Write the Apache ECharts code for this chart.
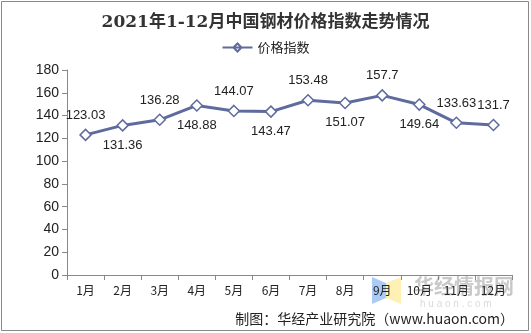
<!DOCTYPE html>
<html>
<head>
<meta charset="utf-8">
<script src="https://cdn.jsdelivr.net/npm/echarts@6/dist/echarts.min.js"></script>
<style>
  html, body { margin: 0; padding: 0; background: #fff; }
  #chart { width: 531px; height: 333px; }
</style>
</head>
<body>
<div id="chart"></div>
<script>
// Monthly steel price index, 2021
const months = ['1月', '2月', '3月', '4月', '5月', '6月', '7月', '8月', '9月', '10月', '11月', '12月'];
const priceIndex = [123.03, 131.36, 136.28, 148.88, 144.07, 143.47, 153.48, 151.07, 157.7, 149.64, 133.63, 131.7];
// label placement for each point
const labelSide = ['top', 'bottom', 'top', 'bottom', 'top', 'bottom', 'top', 'bottom', 'top', 'bottom', 'top', 'top'];
const yTicks = { min: 0, max: 180, interval: 20 };

const lineColor = '#5E6B9C';
const chart = echarts.init(document.getElementById('chart'));

chart.setOption({
  animation: false,
  backgroundColor: '#fff',
  title: {
    text: '2021年1-12月中国钢材价格指数走势情况',
    left: 'center',
    top: 9,
    textStyle: { fontFamily: 'DejaVu Serif, Noto Sans CJK SC', fontSize: 17, fontWeight: 'bold', color: '#333' }
  },
  legend: {
    top: 36,
    left: 'center',
    itemWidth: 30,
    itemHeight: 10,
    icon: 'path://M0,5 L30,5 M11,5 L15,1 L19,5 L15,9 Z',
    data: ['价格指数'],
    textStyle: { fontFamily: 'Noto Sans CJK SC', fontSize: 13, color: '#222' }
  },
  grid: { left: 67, right: 19, top: 70, bottom: 58 },
  xAxis: {
    type: 'category',
    data: months,
    boundaryGap: true,
    z: 5,
    axisLine: { lineStyle: { color: '#888' } },
    axisTick: { show: true, alignWithLabel: false, lineStyle: { color: '#888' } },
    axisLabel: { color: '#222', fontSize: 12, fontFamily: 'Noto Sans CJK SC', margin: 9 }
  },
  yAxis: {
    type: 'value',
    min: yTicks.min,
    max: yTicks.max,
    interval: yTicks.interval,
    splitLine: { show: false },
    axisLine: { show: true, lineStyle: { color: '#888' } },
    axisTick: { show: true, length: 5, lineStyle: { color: '#888' } },
    axisLabel: { color: '#222', fontSize: 14, fontFamily: 'Liberation Sans', margin: 8 }
  },
  series: [{
    name: '价格指数',
    type: 'line',
    data: priceIndex.map((v, i) => ({
      value: v,
      label: { position: labelSide[i] }
    })),
    symbol: 'diamond',
    symbolSize: 11,
    lineStyle: { color: lineColor, width: 3 },
    itemStyle: { color: '#fff', borderColor: lineColor, borderWidth: 1.5 },
    label: {
      show: true,
      distance: 7,
      color: '#222',
      fontSize: 13,
      fontFamily: 'Liberation Sans',
      formatter: p => String(p.value)
    }
  }],
  graphic: [
    {
      type: 'rect',
      shape: { x: 1.5, y: 1.5, width: 527, height: 329 },
      style: { fill: 'none', stroke: '#888', lineWidth: 1 },
      silent: true
    },
    // watermark logo: folded blue/yellow ribbon
    {
      type: 'polygon',
      z: 0,
      shape: { points: [[372, 277], [386, 283], [386, 298], [372, 304]] },
      style: { fill: 'rgba(150,190,245,0.8)' },
      silent: true
    },
    {
      type: 'polygon',
      z: 0,
      shape: { points: [[386, 283], [401, 277], [401, 304], [386, 298]] },
      style: { fill: 'rgba(255,236,160,0.8)' },
      silent: true
    },
    {
      type: 'text',
      z: 0,
      left: 414,
      top: 276,
      style: { text: '华经情报网', fill: 'rgba(120,120,120,0.4)', font: 'bold 20px "Noto Sans CJK SC"' },
      silent: true
    },
    {
      type: 'text',
      z: 0,
      left: 420,
      top: 299,
      style: { text: 'h u a o n . c o m', fill: 'rgba(150,150,150,0.35)', font: '10px "Liberation Sans"' },
      silent: true
    },
    {
      type: 'text',
      right: 17,
      bottom: 7,
      style: { text: '制图：华经产业研究院（www.huaon.com）', fill: '#222', font: '14px "Noto Sans CJK SC"' },
      silent: true
    }
  ]
});
</script>
</body>
</html>
